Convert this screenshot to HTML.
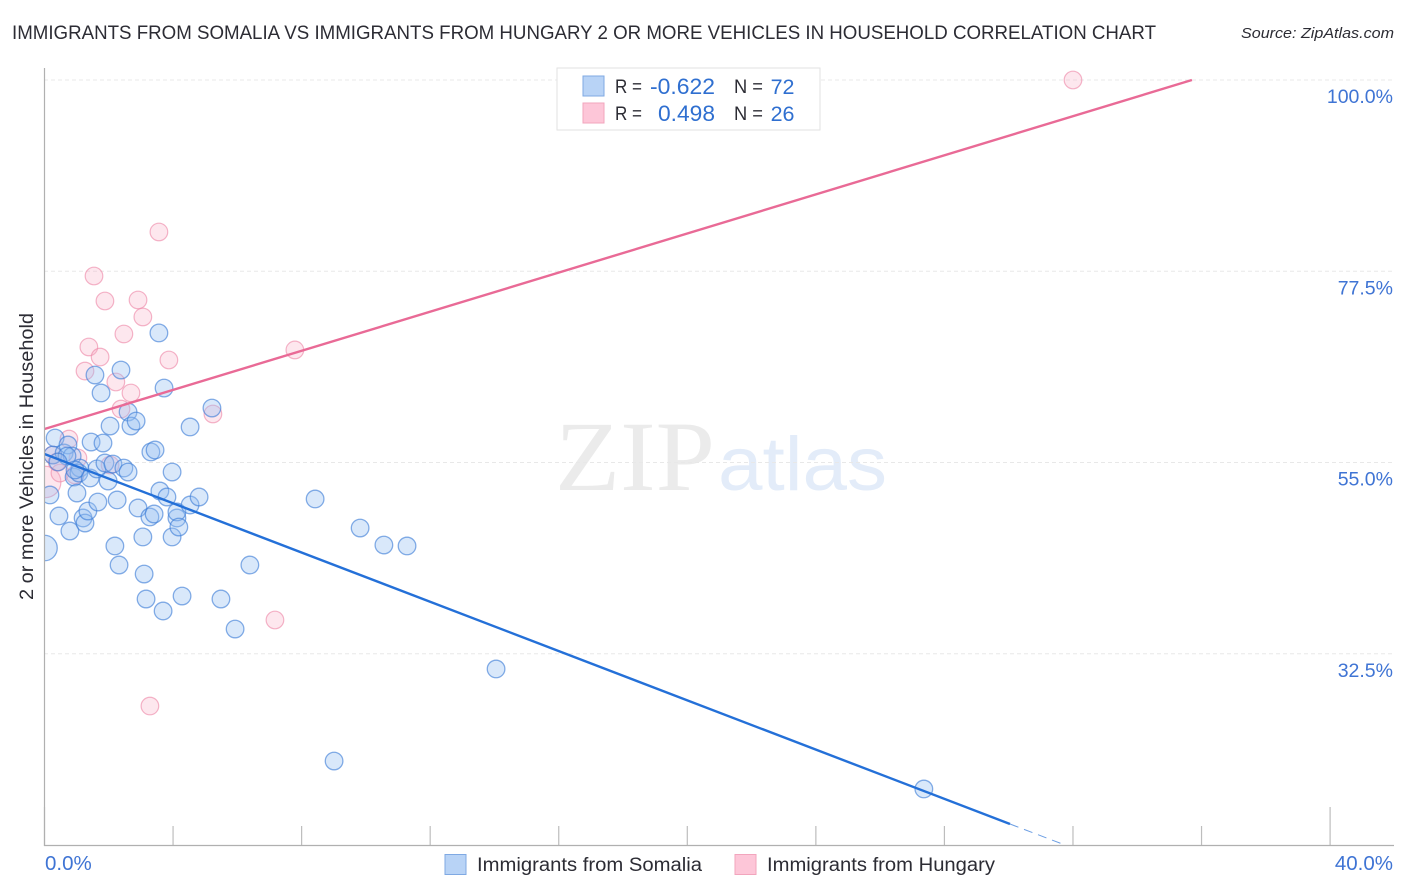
<!DOCTYPE html>
<html lang="en">
<head>
<meta charset="utf-8">
<title>Immigrants from Somalia vs Immigrants from Hungary chart</title>
<style>
html,body{margin:0;padding:0;background:#fff;width:1406px;height:892px;overflow:hidden}
svg{display:block;font-family:"Liberation Sans",sans-serif}
</style>
</head>
<body>
<svg id="chart" width="1406" height="892" viewBox="0 0 1406 892" xmlns="http://www.w3.org/2000/svg">
  <defs>
    <clipPath id="plot-clip"><rect x="44" y="60" width="1360" height="786"/></clipPath>
  </defs>
  <rect width="1406" height="892" fill="#fff"/>
  <text x="12" y="39" font-size="19" fill="#2c2c34" textLength="1144" lengthAdjust="spacingAndGlyphs">IMMIGRANTS FROM SOMALIA VS IMMIGRANTS FROM HUNGARY 2 OR MORE VEHICLES IN HOUSEHOLD CORRELATION CHART</text>
  <text x="1241" y="38" font-size="15" font-style="italic" fill="#2c2c34" textLength="153" lengthAdjust="spacingAndGlyphs">Source: ZipAtlas.com</text>

  <g>
    <text x="555" y="490" font-family="'Liberation Serif',serif" font-size="100" fill="#ebebeb" textLength="160" lengthAdjust="spacingAndGlyphs">ZIP</text>
    <text x="718" y="490" font-size="76" fill="#e3ecf9" textLength="169" lengthAdjust="spacingAndGlyphs">atlas</text>
  </g>

  <g id="grid"></g>
  <g id="points" clip-path="url(#plot-clip)"></g>
  <g id="trends" clip-path="url(#plot-clip)"></g>
  <g id="axes"></g>

  <text transform="translate(33,456.5) rotate(-90)" text-anchor="middle" font-size="19" fill="#2c2c34" textLength="287" lengthAdjust="spacingAndGlyphs">2 or more Vehicles in Household</text>

  <g>
    <rect x="557" y="68" width="263" height="62" fill="#fff" stroke="#e2e2e2" stroke-width="1"/>
    <rect x="583" y="76" width="21" height="20" fill="#b8d3f6" stroke="#7fa9e3" stroke-width="1"/>
    <rect x="583" y="103" width="21" height="20" fill="#fdc6d8" stroke="#f2a5bd" stroke-width="1"/>
    <text x="615" y="93" font-size="19" fill="#2c2c34" textLength="27" lengthAdjust="spacingAndGlyphs">R =</text>
    <text x="650" y="94" font-size="22" fill="#2f6fd0" textLength="65" lengthAdjust="spacingAndGlyphs">-0.622</text>
    <text x="734" y="93" font-size="19" fill="#2c2c34" textLength="29" lengthAdjust="spacingAndGlyphs">N =</text>
    <text x="794.500" y="94" font-size="21.500" fill="#2f6fd0" text-anchor="end">72</text>
    <text x="615" y="120" font-size="19" fill="#2c2c34" textLength="27" lengthAdjust="spacingAndGlyphs">R =</text>
    <text x="658" y="121" font-size="22" fill="#2f6fd0" textLength="57" lengthAdjust="spacingAndGlyphs">0.498</text>
    <text x="734" y="120" font-size="19" fill="#2c2c34" textLength="29" lengthAdjust="spacingAndGlyphs">N =</text>
    <text x="794.500" y="121" font-size="21.500" fill="#2f6fd0" text-anchor="end">26</text>
  </g>

  <g>
    <rect x="445" y="854.500" width="21" height="20" fill="#b8d3f6" stroke="#7fa9e3" stroke-width="1"/>
    <text x="477" y="871" font-size="19" fill="#2c2c34" textLength="225" lengthAdjust="spacingAndGlyphs">Immigrants from Somalia</text>
    <rect x="735" y="854.500" width="21" height="20" fill="#fdc6d8" stroke="#f2a5bd" stroke-width="1"/>
    <text x="767" y="871" font-size="19" fill="#2c2c34" textLength="228" lengthAdjust="spacingAndGlyphs">Immigrants from Hungary</text>
  </g>
</svg>

<script>
const xTickValues = [0, 4, 8, 12, 16, 20, 24, 28, 32, 36, 40];
const xMajorTicks = [0, 40];
const xTickLabels = ['0.0%', '40.0%'];
const yTickValues = [100, 77.5, 55, 32.5];
const yTickLabels = ['100.0%', '77.5%', '55.0%', '32.5%'];

const somaliaX = [0, .17, .33, .26, .45, .61, .73, .79, .86, .92, 1.01, 1.10, 1.07, 1.20, 1.26, 1.35, 1.42, 1.45, 1.57, 1.63, 1.66, 1.76, 1.82, 1.88, 1.98, 2.04, 2.13, 2.19, 2.26, 2.32, 2.38, 2.47, 2.60, 2.60, 2.69, 2.85, 2.91, 3.06, 3.10, 3.16, 3.28, 3.41, 3.31, 3.44, 3.56, 3.59, 3.69, 3.72, 3.81, 3.97, 3.97, 4.12, 4.12, 4.18, 4.28, 4.53, 4.53, 4.81, 5.21, 5.49, 5.93, 6.39, 8.42, 9.01, 9.82, 10.56, 11.28, 14.05, 27.36, .70, .95, .42];
const somaliaY = [44.94, 51.18, 57.88, 55.88, 48.71, 56.12, 57.06, 46.94, 55.76, 53.29, 51.41, 54.35, 53.76, 48.47, 47.88, 49.29, 53.18, 57.41, 65.29, 54.24, 50.35, 63.18, 57.29, 54.94, 52.82, 59.29, 54.82, 45.18, 50.59, 42.94, 65.88, 54.35, 53.88, 60.94, 59.29, 59.88, 49.65, 46.24, 41.88, 38.94, 48.59, 48.94, 56.24, 56.47, 70.24, 51.65, 37.53, 63.76, 50.94, 53.88, 46.24, 48.47, 49.18, 47.41, 39.29, 59.18, 50.00, 50.94, 61.41, 38.94, 35.41, 42.94, 50.71, 19.88, 47.29, 45.29, 45.18, 30.71, 16.59, 55.76, 54.12, 55.06];
const somaliaWeights = [2.1];

const hungaryX = [.02, 32.00, 3.56, 1.54, 1.88, 2.91, 3.06, 2.47, 1.38, 1.73, 3.87, 7.79, 1.26, 2.22, 2.69, 2.38, 5.24, .76, 1.04, 2.04, .26, .48, .95, 7.17, 3.28, .39];
const hungaryY = [52.71, 100, 82.12, 76.94, 74.00, 74.12, 72.12, 70.12, 68.59, 67.41, 67.06, 68.24, 65.76, 64.47, 63.18, 61.29, 60.71, 57.76, 55.53, 54.71, 55.88, 53.76, 53.53, 36.47, 26.35, 55.06];
const hungaryWeights = [3.2];

const somaliaTrendX = [0, 30.04];
const somaliaTrendY = [56.0, 12.47];
const somaliaTrendDashX = [30.04, 31.75];
const somaliaTrendDashY = [12.47, 10.0];
const hungaryTrendX = [0, 35.7];
const hungaryTrendY = [58.94, 100];

const NS = 'http://www.w3.org/2000/svg';
const xScale = function (v) { return 44.5 + v * 32.14; };
const yScale = function (v) { return 80 + (100 - v) * 8.5; };
const baseRadius = 8.8;

function make(tag, parent, attrs) {
  const el = document.createElementNS(NS, tag);
  Object.keys(attrs).forEach(function (k) { el.setAttribute(k, attrs[k]); });
  parent.appendChild(el);
  return el;
}

const grid = document.getElementById('grid');
const axes = document.getElementById('axes');
const pointsLayer = document.getElementById('points');
const trends = document.getElementById('trends');

yTickValues.forEach(function (v, i) {
  const line = make('line', grid, {x1: 44, x2: 1394, y1: yScale(v), y2: yScale(v), stroke: '#e8e8e8', 'stroke-width': 1, 'stroke-dasharray': '4 3'});
  
  
  const label = make('text', axes, {x: 1393, y: yScale(v) + 23, 'text-anchor': 'end', 'font-size': 19.5, fill: '#3f74d4'});
  
  
  label.textContent = yTickLabels[i];
});

xTickValues.forEach(function (v) {
  const isMajor = xMajorTicks.indexOf(v) >= 0;
  const tick = make('line', axes, {x1: xScale(v), x2: xScale(v), y1: isMajor ? 807 : 826, y2: 846, stroke: '#bdbdbd', 'stroke-width': 1.2});
  
  
});

const yAxisLine = make('line', axes, {x1: 44.5, x2: 44.5, y1: 68, y2: 846, stroke: '#b0b0b0', 'stroke-width': 1.2});


const xAxisLine = make('line', axes, {x1: 44, x2: 1394, y1: 845.5, y2: 845.5, stroke: '#b0b0b0', 'stroke-width': 1.2});



const xLabelMin = make('text', axes, {x: 45, y: 870, 'font-size': 20.5, fill: '#3f74d4'});


xLabelMin.textContent = xTickLabels[0];
const xLabelMax = make('text', axes, {x: 1393, y: 870, 'text-anchor': 'end', 'font-size': 20.5, fill: '#3f74d4'});


xLabelMax.textContent = xTickLabels[1];

hungaryX.forEach(function (v, i) {
  const w = hungaryWeights[i] || 1;
  const dot = make('circle', pointsLayer, {cx: xScale(v), cy: yScale(hungaryY[i]), r: baseRadius * Math.sqrt(w), fill: 'rgba(250,175,200,0.30)', stroke: 'rgba(238,140,170,0.65)', 'stroke-width': 1.2});
  
  
});
somaliaX.forEach(function (v, i) {
  const w = somaliaWeights[i] || 1;
  const dot = make('circle', pointsLayer, {cx: xScale(v), cy: yScale(somaliaY[i]), r: baseRadius * Math.sqrt(w), fill: 'rgba(150,190,240,0.36)', stroke: 'rgba(60,125,215,0.62)', 'stroke-width': 1.3});
  
  
});

const hungaryLine = make('line', trends, {x1: xScale(hungaryTrendX[0]), y1: yScale(hungaryTrendY[0]), x2: xScale(hungaryTrendX[1]), y2: yScale(hungaryTrendY[1]), stroke: '#e96a96', 'stroke-width': 2.4});


const somaliaLine = make('line', trends, {x1: xScale(somaliaTrendX[0]), y1: yScale(somaliaTrendY[0]), x2: xScale(somaliaTrendX[1]), y2: yScale(somaliaTrendY[1]), stroke: '#2470d8', 'stroke-width': 2.4});


const somaliaDash = make('line', trends, {x1: xScale(somaliaTrendDashX[0]), y1: yScale(somaliaTrendDashY[0]), x2: xScale(somaliaTrendDashX[1]), y2: yScale(somaliaTrendDashY[1]), stroke: '#6c9ee3', 'stroke-width': 1, 'stroke-dasharray': '9 6'});


</script>
</body>
</html>
